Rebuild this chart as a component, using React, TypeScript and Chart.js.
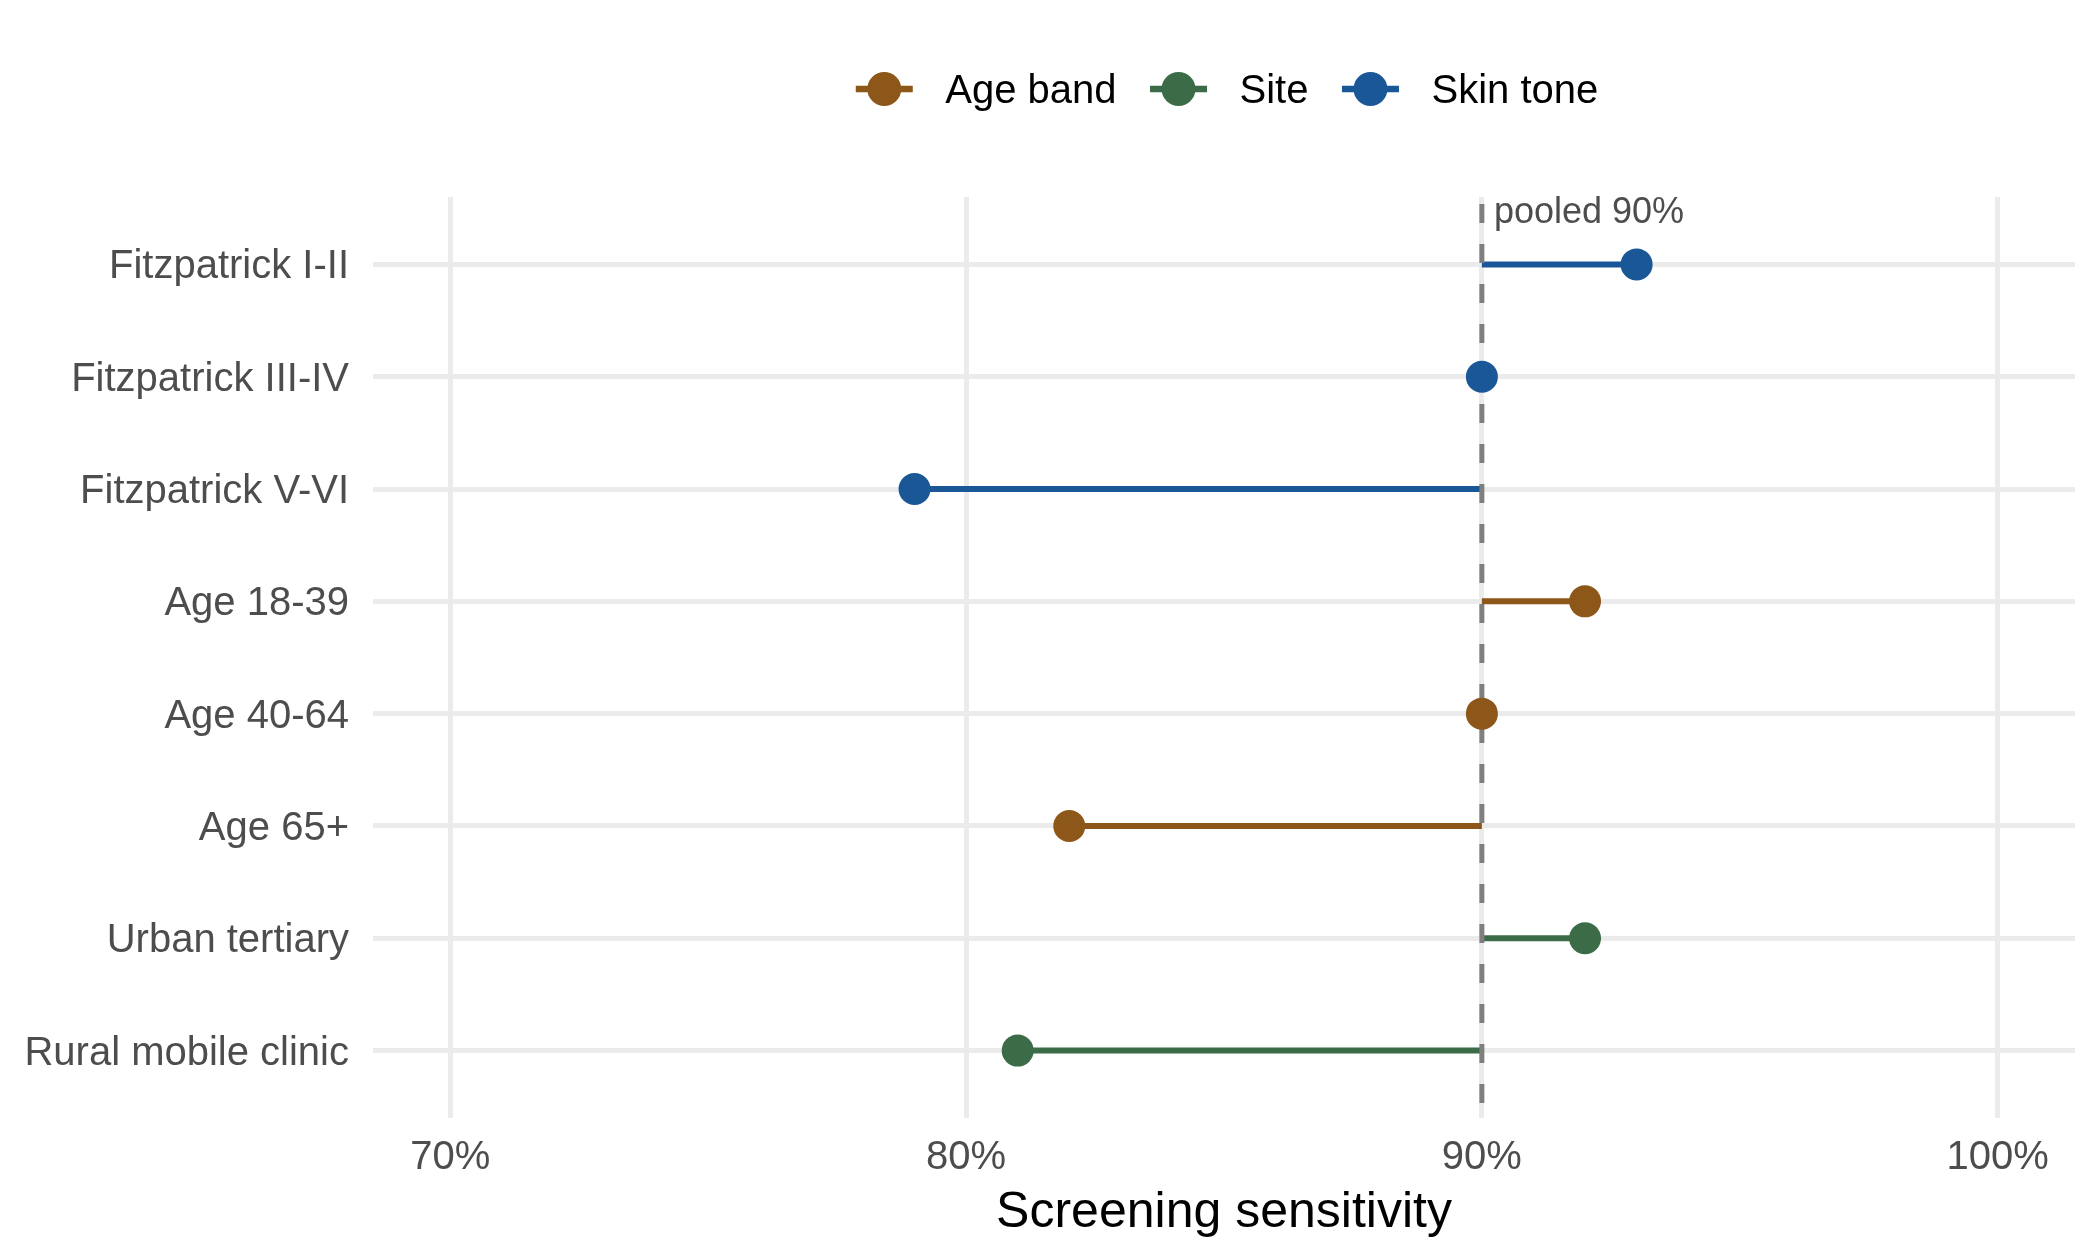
import React, { useEffect, useRef } from 'react';
import { Chart, ChartConfiguration, Plugin, registerables } from 'chart.js';

// Register all Chart.js components
Chart.register(...registerables);

// Rows, top to bottom
const categories = [
  'Fitzpatrick I-II',
  'Fitzpatrick III-IV',
  'Fitzpatrick V-VI',
  'Age 18-39',
  'Age 40-64',
  'Age 65+',
  'Urban tertiary',
  'Rural mobile clinic',
];
const sensitivity = [93, 90, 79, 92, 90, 82, 92, 81];
const rowGroup = [
  'Skin tone',
  'Skin tone',
  'Skin tone',
  'Age band',
  'Age band',
  'Age band',
  'Site',
  'Site',
];

const groups = ['Age band', 'Site', 'Skin tone'];
const groupColors = ['#8C5718', '#3B6B47', '#1A5797'];

const pooled = 90;
const xTicks = [70, 80, 90, 100];

const FONT = "'Liberation Sans', Arial, Helvetica, sans-serif";

const colorOf = (g: string) => groupColors[groups.indexOf(g)];

// Text label next to the pooled reference line
const pooledLabel: Plugin = {
  id: 'pooledLabel',
  afterDatasetsDraw(chart) {
    const { ctx, chartArea, scales } = chart;
    const x = scales.x.getPixelForValue(pooled);
    ctx.save();
    ctx.font = `36px ${FONT}`;
    ctx.fillStyle = '#4D4D4D';
    ctx.textAlign = 'left';
    ctx.textBaseline = 'alphabetic';
    ctx.fillText(`pooled ${pooled}%`, x + 12, chartArea.top + 26);
    ctx.restore();
  },
};

// ggplot-like legend: line with a dot through it, centred over the panel
const lineDotLegend: Plugin = {
  id: 'lineDotLegend',
  afterDraw(chart) {
    const { ctx, chartArea } = chart;
    const half = 28.5;
    const toText = 61;
    const gap = 33.5;
    const y = 89;

    ctx.save();
    ctx.font = `40px ${FONT}`;
    const widths = groups.map((g) => ctx.measureText(g).width);
    const total =
      widths.reduce((s, w) => s + half + toText + w, 0) + gap * (groups.length - 1);
    let x = (chartArea.left + chartArea.right) / 2 + 3 - total / 2;

    groups.forEach((g, i) => {
      const cx = x + half;
      ctx.strokeStyle = groupColors[i];
      ctx.lineWidth = 6.5;
      ctx.beginPath();
      ctx.moveTo(cx - half, y);
      ctx.lineTo(cx + half, y);
      ctx.stroke();

      ctx.fillStyle = groupColors[i];
      ctx.beginPath();
      ctx.arc(cx, y, 17, 0, Math.PI * 2);
      ctx.fill();

      ctx.fillStyle = '#000000';
      ctx.textAlign = 'left';
      ctx.textBaseline = 'middle';
      ctx.fillText(g, cx + toText, y + 3);

      x = cx + toText + widths[i] + gap;
    });
    ctx.restore();
  },
};

const SensitivityLollipop: React.FC = () => {
  const chartRef = useRef<HTMLCanvasElement | null>(null);
  const chartInstance = useRef<Chart | null>(null);

  useEffect(() => {
    document.body.style.margin = '0';
    if (!chartRef.current) return;

    if (chartInstance.current) {
      chartInstance.current.destroy();
    }

    // One stick per row, from the pooled value out to the row value
    const sticks = categories.map((c, i) => ({
      label: c,
      data: [
        { x: pooled, y: i },
        { x: sensitivity[i], y: i },
      ],
      showLine: true,
      borderColor: colorOf(rowGroup[i]),
      borderWidth: 6,
      pointRadius: 0,
      order: 3,
    }));

    const refLine = {
      label: 'pooled',
      data: [
        { x: pooled, y: -0.6 },
        { x: pooled, y: categories.length - 0.4 },
      ],
      showLine: true,
      borderColor: '#7F7F7F',
      borderWidth: 5,
      borderDash: [19, 21],
      borderDashOffset: 33,
      pointRadius: 0,
      order: 2,
    };

    const dots = groups.map((g, gi) => ({
      label: g,
      data: categories
        .map((_, i) => ({ x: sensitivity[i], y: i, g: rowGroup[i] }))
        .filter((p) => p.g === g)
        .map(({ x, y }) => ({ x, y })),
      backgroundColor: groupColors[gi],
      borderWidth: 0,
      pointRadius: 16,
      pointHoverRadius: 16,
      order: 1,
    }));

    const config: ChartConfiguration = {
      type: 'scatter',
      data: {
        datasets: [...sticks, refLine, ...dots] as any,
      },
      options: {
        responsive: true,
        maintainAspectRatio: false,
        animation: false,
        layout: {
          padding: { top: 197, left: 24, right: 25, bottom: 17 },
        },
        plugins: {
          legend: { display: false },
          tooltip: { enabled: false },
        },
        scales: {
          x: {
            type: 'linear',
            min: 68.5,
            max: 101.5,
            afterBuildTicks: (scale) => {
              scale.ticks = xTicks.map((v) => ({ value: v }));
            },
            afterFit: (scale) => {
              scale.height = 125;
            },
            grid: {
              color: '#EBEBEB',
              lineWidth: 5,
              drawTicks: false,
            },
            border: { display: false },
            ticks: {
              padding: 16,
              color: '#4D4D4D',
              font: { family: FONT, size: 40 },
              callback: (value) => `${value}%`,
            },
            title: {
              display: true,
              text: 'Screening sensitivity',
              color: '#000000',
              font: { family: FONT, size: 50 },
              padding: { top: 0, bottom: 0 },
            },
          },
          y: {
            type: 'linear',
            reverse: true,
            min: -0.6,
            max: categories.length - 0.4,
            afterBuildTicks: (scale) => {
              scale.ticks = categories.map((_, i) => ({ value: i }));
            },
            afterFit: (scale) => {
              scale.width = 349;
            },
            grid: {
              color: '#EBEBEB',
              lineWidth: 5,
              drawTicks: false,
            },
            border: { display: false },
            ticks: {
              padding: 24,
              labelOffset: 3,
              color: '#4D4D4D',
              font: { family: FONT, size: 40 },
              callback: (value) => categories[Math.round(Number(value))] ?? '',
            },
          },
        },
      },
      plugins: [pooledLabel, lineDotLegend],
    };

    chartInstance.current = new Chart(chartRef.current, config);

    return () => {
      if (chartInstance.current) {
        chartInstance.current.destroy();
        chartInstance.current = null;
      }
    };
  }, []);

  return (
    <div style={{ width: 2100, height: 1260, position: 'relative', background: '#ffffff' }}>
      <canvas ref={chartRef} />
    </div>
  );
};

export default function App() {
  return <SensitivityLollipop />;
}
